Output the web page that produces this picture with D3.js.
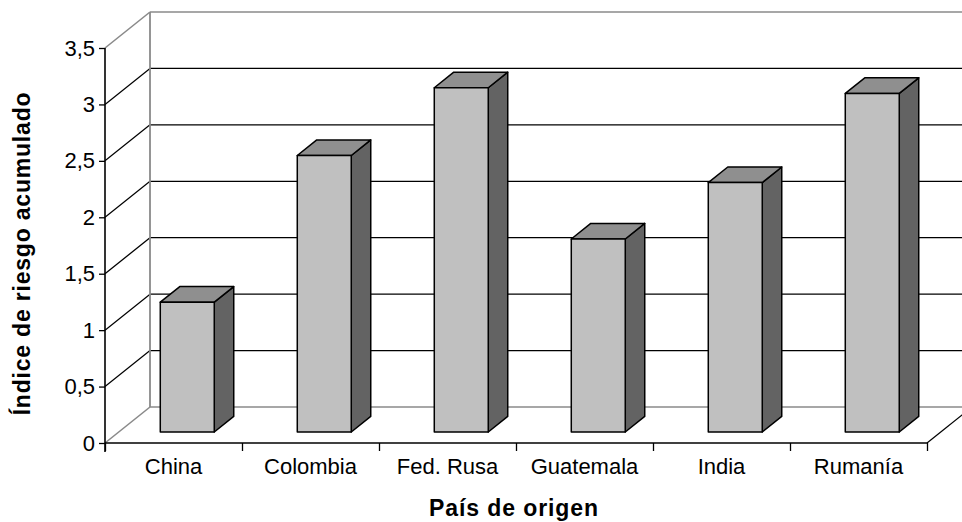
<!DOCTYPE html>
<html>
<head>
<meta charset="utf-8">
<script src="https://cdn.jsdelivr.net/npm/d3@7"></script>
<style>
  html, body { margin: 0; padding: 0; background: #fff; }
  svg { display: block; }
  text { font-family: "Liberation Sans", Arial, sans-serif; fill: #000; }
</style>
</head>
<body>
<svg id="chart" width="962" height="522"></svg>
<script>
// Country categories and accumulated risk index
const categories = ["China", "Colombia", "Fed. Rusa", "Guatemala", "India", "Rumanía"];
const values = [1.15, 2.45, 3.05, 1.71, 2.21, 3.0];
const yTicks = [0, 0.5, 1, 1.5, 2, 2.5, 3, 3.5];
const yTitle = "Índice de riesgo acumulado";
const xTitle = "País de origen";

const svg = d3.select("#chart");

// Front plane of the 3-D plot box and its depth offset
const plotLeft = 105, plotRight = 927, plotBottom = 443, plotTop = 48;
const DX = 45, DY = -36;
// Bars sit between these fractions of the box depth
const z1 = 0.306, z2 = 0.739;

const y = d3.scaleLinear().domain([0, 3.5]).range([plotBottom, plotTop]);
const x = d3.scaleBand().domain(categories).range([plotLeft, plotRight])
  .paddingInner(0.606).paddingOuter(0.303);
const xEdge = d3.scaleLinear().domain([0, categories.length]).range([plotLeft, plotRight]);

const P = (px, v, z) => [px + z * DX, y(v) + z * DY];
const gray = "#8a8a8a";

const walls = svg.append("g");
const seg = (a, b, color, w) => walls.append("line")
  .attr("x1", a[0]).attr("y1", a[1]).attr("x2", b[0]).attr("y2", b[1])
  .attr("stroke", color).attr("stroke-width", w);

// Gridlines across the side wall and the back wall
const yMax = yTicks[yTicks.length - 1];
yTicks.forEach(t => {
  const edge = (t === 0 || t === yMax);
  const c = edge ? gray : "#000";
  const w = edge ? 1.6 : 1.3;
  seg(P(plotLeft, t, 0), P(plotLeft, t, 1), c, w);
  seg(P(plotLeft, t, 1), P(plotRight, t, 1), c, w);
});
// Back-left corner of the walls
seg(P(plotLeft, 0, 1), P(plotLeft, yMax, 1), gray, 1.8);
// Floor right edge
seg(P(plotRight, 0, 0), P(plotRight, 0, 1), "#000", 1.3);

// Bars: side, top and front faces
const bars = svg.append("g")
  .attr("stroke", "#000").attr("stroke-width", 1.5).attr("stroke-linejoin", "round");
const poly = pts => pts.map(p => p.join(",")).join(" ");
categories.forEach((c, i) => {
  const v = values[i];
  const x0 = x(c), x1 = x(c) + x.bandwidth();
  bars.append("polygon").attr("fill", "#636363")
    .attr("points", poly([P(x1, 0, z1), P(x1, v, z1), P(x1, v, z2), P(x1, 0, z2)]));
  bars.append("polygon").attr("fill", "#8f8f8f")
    .attr("points", poly([P(x0, v, z1), P(x1, v, z1), P(x1, v, z2), P(x0, v, z2)]));
  bars.append("polygon").attr("fill", "#c0c0c0")
    .attr("points", poly([P(x0, 0, z1), P(x1, 0, z1), P(x1, v, z1), P(x0, v, z1)]));
});

// Value axis
const fmt = d3.formatLocale({ decimal: ",", thousands: ".", grouping: [3], currency: ["", ""] }).format("~g");
const yAxis = svg.append("g").attr("transform", `translate(${plotLeft},0)`)
  .call(d3.axisLeft(y).tickValues(yTicks).tickFormat(fmt).tickSize(6).tickPadding(4));
yAxis.select(".domain").attr("stroke", "#000").attr("stroke-width", 1.6)
  .attr("d", `M0,${plotTop}V${plotBottom + 9}`);
yAxis.selectAll(".tick line").attr("stroke", "#000").attr("stroke-width", 1.3);
yAxis.selectAll(".tick text").attr("font-size", 22).attr("font-family", "Liberation Sans, Arial, sans-serif");

// Category axis: boundary ticks and centred labels
const edgeAxis = svg.append("g").attr("transform", `translate(0,${plotBottom})`)
  .call(d3.axisBottom(xEdge).ticks(categories.length).tickSize(8).tickFormat(""));
edgeAxis.select(".domain").attr("stroke", "#000").attr("stroke-width", 1.6)
  .attr("d", `M${plotLeft},0H${plotRight}`);
edgeAxis.selectAll(".tick line").attr("stroke", "#000").attr("stroke-width", 1.3);

const xLab = d3.scaleBand().domain(categories).range([plotLeft, plotRight]);
const xAxis = svg.append("g").attr("transform", `translate(0,${plotBottom})`)
  .call(d3.axisBottom(xLab).tickSize(0).tickPadding(15));
xAxis.select(".domain").remove();
xAxis.selectAll(".tick text").attr("font-size", 22).attr("font-family", "Liberation Sans, Arial, sans-serif");

// Axis titles
svg.append("text")
  .attr("transform", `translate(30,${(plotTop + plotBottom) / 2 + 8}) rotate(-90)`)
  .attr("text-anchor", "middle").attr("font-size", 23).attr("font-weight", "bold")
  .attr("letter-spacing", 0.8)
  .text(yTitle);
svg.append("text")
  .attr("x", 514).attr("y", 516)
  .attr("text-anchor", "middle").attr("font-size", 23).attr("font-weight", "bold")
  .attr("letter-spacing", 0.9)
  .text(xTitle);
</script>
</body>
</html>
